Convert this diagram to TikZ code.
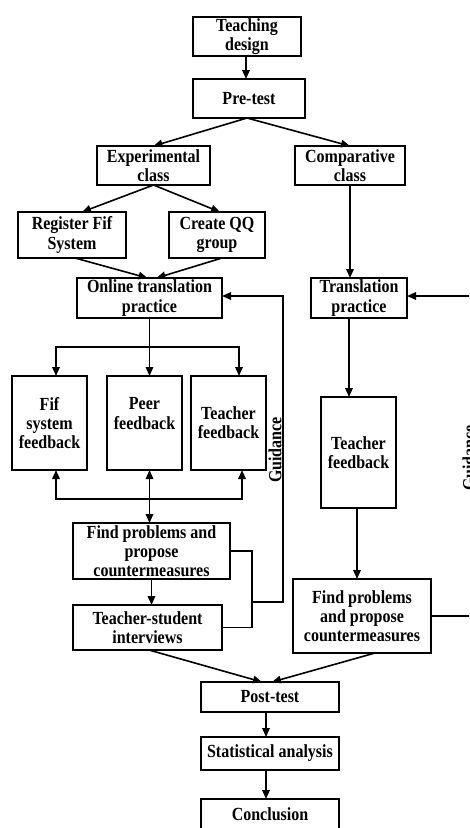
\documentclass[tikz,border=0pt]{standalone}
\usepackage{fontspec}
\setmainfont{Liberation Serif}[FakeStretch=0.865]
\usetikzlibrary{arrows.meta,calc}
\begin{document}
\begin{tikzpicture}[x=1pt,y=-1pt,
  box/.style={draw, line width=1.6pt, font=\fontsize{18.5}{19.3}\selectfont\bfseries, align=center, inner sep=0.5pt, outer sep=0pt},
  conn/.style={line width=1.6pt},
  arr/.style={conn, -{Triangle[length=9pt,width=7.5pt]}},
  darr/.style={conn, {Triangle[length=9pt,width=7.5pt]}-{Triangle[length=9pt,width=7.5pt]}},
  lbl/.style={font=\fontsize{18.5}{19.3}\selectfont\bfseries, rotate=90, inner sep=0pt}
]
\useasboundingbox (0,0) rectangle (469,828);
\clip (0,0) rectangle (469,828);

% boxes
\node[box, minimum width=108pt, minimum height=39pt] (td) at (247,36.5) {Teaching\\design};
\node[box, minimum width=112pt, minimum height=39pt] (pre) at (249,98.5) {Pre-test};
\node[box, minimum width=113pt, minimum height=39pt] (exp) at (153.5,165.5) {Experimental\\class};
\node[box, minimum width=110pt, minimum height=39pt] (comp) at (350,165.5) {Comparative\\class};
\node[box, minimum width=108pt, minimum height=46pt] (reg) at (72,235) {Register Fif\\System};
\node[box, minimum width=96pt, minimum height=46pt] (qq) at (217,235) {Create QQ\\group};
\node[box, minimum width=145pt, minimum height=40pt] (online) at (149.5,298) {Online translation\\practice};
\node[box, minimum width=96pt, minimum height=40pt] (trans) at (359,298) {Translation\\practice};
\node[box, minimum width=75pt, minimum height=94pt] (fif) at (49.5,423) {Fif\\system\\feedback};
\node[box, minimum width=75pt, minimum height=94pt] (peer) at (144.5,423) {Peer\\feedback\\\mbox{}};
\node[box, minimum width=75pt, minimum height=94pt] (tf1) at (228.5,423) {Teacher\\feedback};
\node[box, minimum width=75pt, minimum height=111pt] (tf2) at (358.5,452.5) {Teacher\\feedback};
\node[box, minimum width=157pt, minimum height=56pt] (find1) at (151.5,551) {Find problems and\\propose\\countermeasures};
\node[box, minimum width=149pt, minimum height=45pt] (interv) at (147.5,627.5) {Teacher-student\\interviews};
\node[box, minimum width=138pt, minimum height=74pt] (find2) at (362,616) {Find problems\\and propose\\countermeasures};
\node[box, minimum width=138pt, minimum height=30pt] (post) at (270,697) {Post-test};
\node[box, minimum width=138pt, minimum height=33pt] (stat) at (270,753.5) {Statistical analysis};
\node[box, minimum width=138pt, minimum height=31pt] (concl) at (270,814.5) {Conclusion};

% labels
\node[lbl] (g1lbl) at (275,450) {Guidance};
\node[lbl] (g2lbl) at (469,458) {Guidance};

% helper coordinates
\coordinate (s1) at (150,347);
\coordinate (s2) at (150,499);
\coordinate (b1) at (252,602);
\coordinate (gl) at (283,296);
\coordinate (gr) at (485,296);

% connectors
\draw[arr] ([xshift=-1pt]td.south) -- ([xshift=-1pt]td.south |- pre.north);
\draw[arr] ([xshift=-2pt]pre.south) -- (exp.north);
\draw[arr] ([xshift=-2pt]pre.south) -- (comp.north);
\draw[arr] (exp.south) -- ([xshift=10pt]reg.north);
\draw[arr] (exp.south) -- ([xshift=3pt]qq.north);
\draw[arr] (comp.south) -- (comp.south |- trans.north);
\draw[arr] ([xshift=3pt]reg.south) -- ([xshift=-2pt]online.north);
\draw[arr] ([xshift=5pt]qq.south) -- ([xshift=7pt]online.north);

\draw[arr] (online.south) -- (online.south |- peer.north);
\draw[arr] (s1) -| ([xshift=6.5pt]fif.north);
\draw[arr] (s1) -| ([xshift=10.5pt]tf1.north);
\draw[arr] (s2) -| ([xshift=6.5pt]fif.south);
\draw[arr] (s2) -| ([xshift=13.5pt]tf1.south);
\draw[darr] (online.south |- peer.south) -- (online.south |- find1.north);

\draw[arr] (find1.south) -- (find1.south |- interv.north);
\draw[conn] (find1.east) -- (find1.east -| b1) -- (b1 |- interv.east) -- (interv.east);
\draw[arr] (b1) -| (gl) -- (online.east |- gl);

\draw[arr] ([xshift=-10pt]trans.south) -- ([xshift=-10pt]trans.south |- tf2.north);
\draw[arr] ([xshift=-1.5pt]tf2.south) -- ([xshift=-1.5pt]tf2.south |- find2.north);
\draw[arr] (find2.east) -| (gr) -- (trans.east |- gr);

\draw[arr] ([xshift=1.5pt]interv.south) -- ([xshift=-8pt]post.north);
\draw[arr] ([xshift=13pt]find2.south) -- ([xshift=2pt]post.north);
\draw[arr] ([xshift=-4pt]post.south) -- ([xshift=-4pt]stat.north);
\draw[arr] ([xshift=-4pt]stat.south) -- ([xshift=-4pt]concl.north);
\end{tikzpicture}
\end{document}
